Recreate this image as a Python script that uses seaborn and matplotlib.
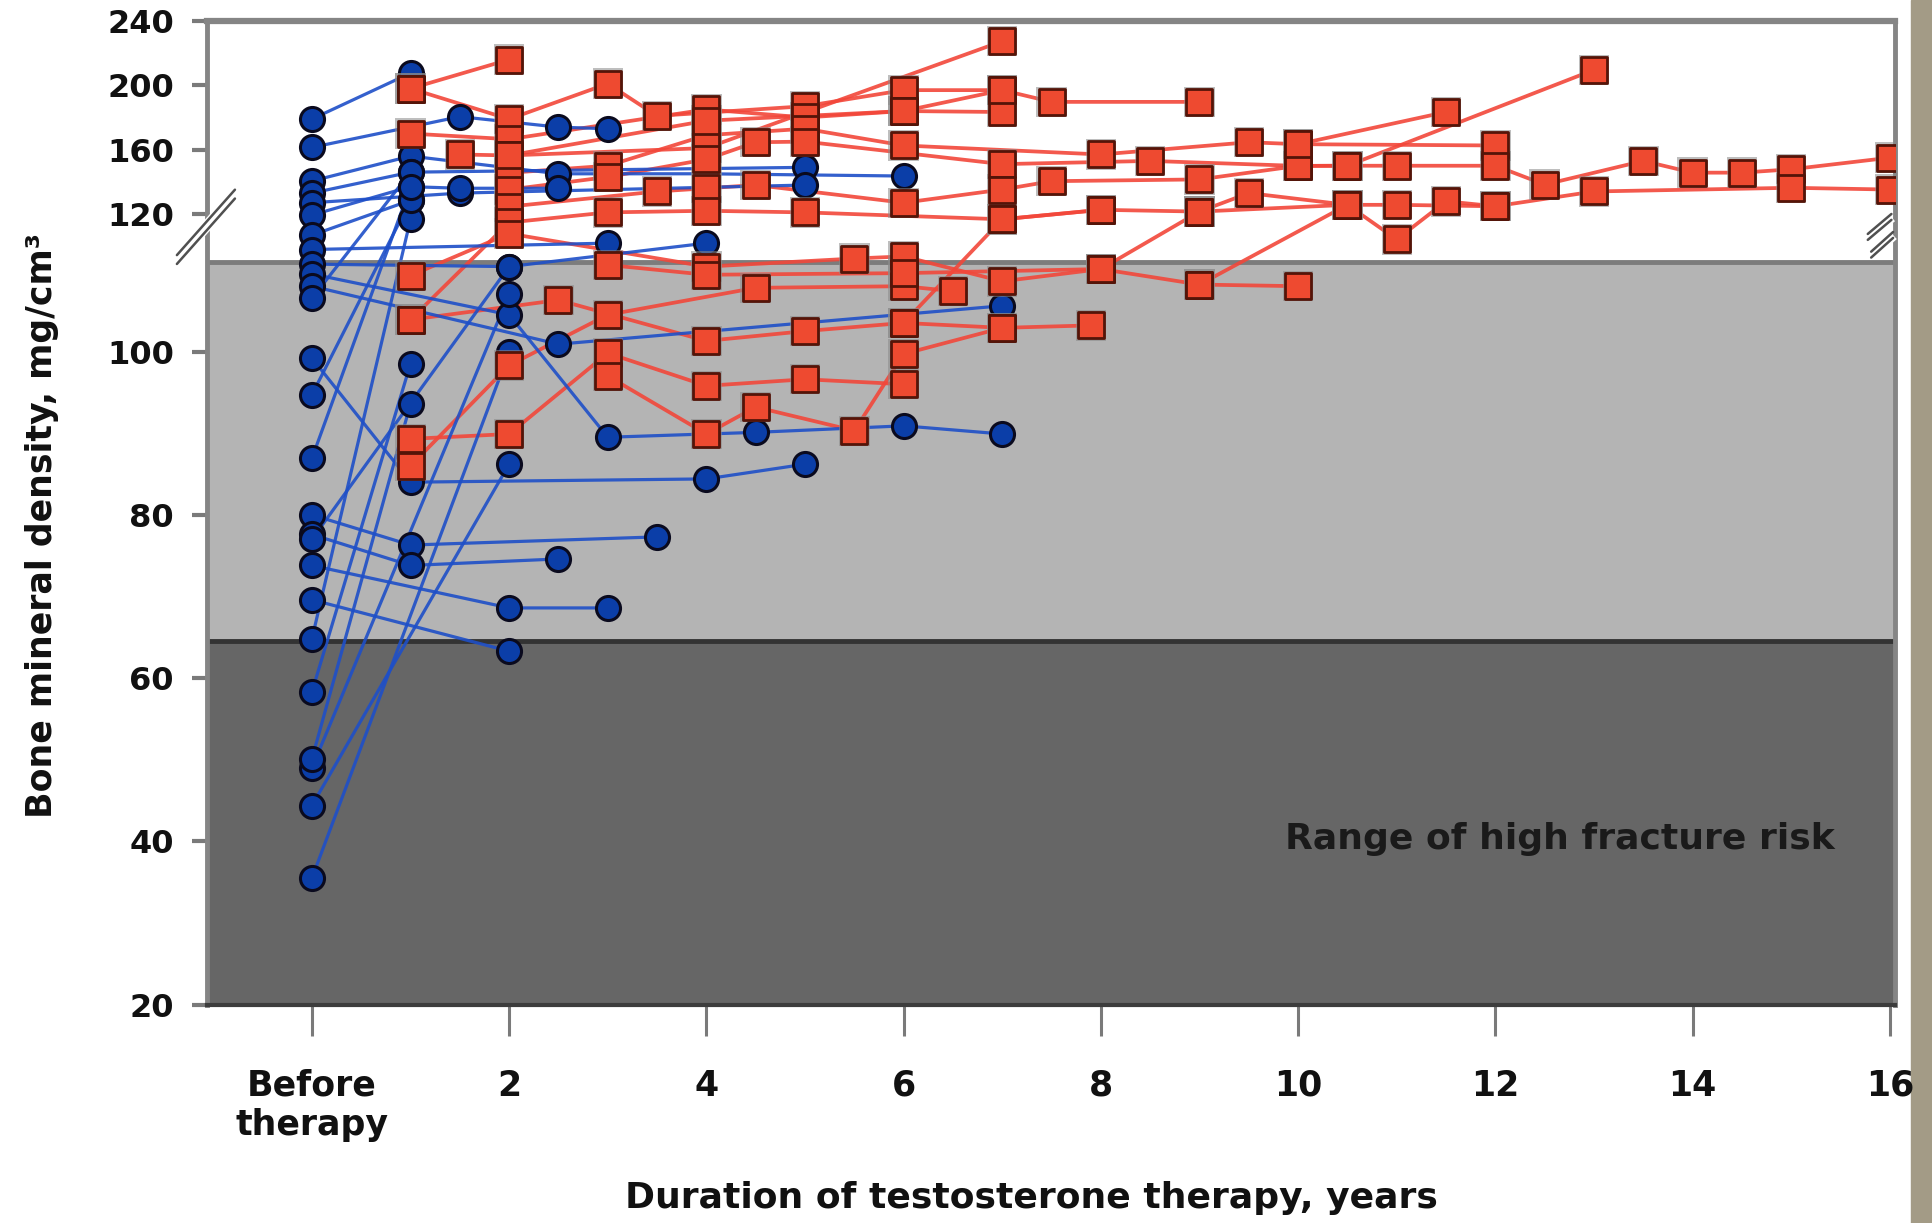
import numpy as np
import pandas as pd
import matplotlib
matplotlib.use("Agg")
import matplotlib.pyplot as plt
import seaborn as sns
from matplotlib.patches import Rectangle

sns.set_style("white")
plt.rcParams["font.family"] = ["DejaVu Sans"]

# ---------------- data ----------------
# blue circles: patients measured before therapy and during therapy
blue_patient = [
    1, 1,
    2, 2, 2, 2,
    3, 3, 3, 3, 3,
    4, 4, 4,
    5, 5, 5,
    6, 6, 6, 6,
    7, 7,
    8, 8,
    9, 9, 9,
    10, 10, 10, 10, 10, 10,
    11, 11, 11,
    12, 12,
    13, 13, 13, 13,
    14, 14,
    15, 15,
    16, 16, 16,
    17, 17, 17,
    18, 18,
    19, 19, 19,
    20, 20,
    21, 21,
    22, 22,
    23, 23,
    24, 24,
    25, 25,
    26, 26]
blue_year = [
    0, 1,
    0, 1.5, 2.5, 3,
    0, 1, 2.5, 4, 6,
    0, 1, 5,
    0, 1.5, 5,
    0, 1, 1.5, 2.5,
    0, 1,
    0, 3,
    0, 2, 4,
    0, 2, 3, 4.5, 6, 7,
    0, 2.5, 7,
    0, 2,
    0, 1, 4, 5,
    0, 1,
    0, 2,
    0, 1, 3.5,
    0, 1, 2.5,
    0, 1,
    0, 2, 3,
    0, 2,
    0, 2,
    0, 1,
    0, 1,
    0, 1,
    0, 1,
    0, 2]
blue_bmd = [
    179, 207.6,
    161.4, 180.5, 174, 173,
    140.5, 156, 145, 145, 143.6,
    133, 146, 149,
    127, 133, 138,
    119.8, 137, 136, 136,
    116, 128.5,
    113.3, 114.5,
    110.7, 110.4, 114.5,
    109.5, 104.5, 89.5, 90.1, 90.9, 89.9,
    108, 100.9, 105.6,
    49, 107,
    99.2, 84, 84.4, 86.2,
    50.1, 93.6,
    44.4, 86.2,
    80, 76.3, 77.3,
    77.6, 73.8, 74.6,
    64.8, 119,
    73.8, 68.6, 68.6,
    69.6, 63.3,
    35.5, 99.9,
    58.3, 98.5,
    106.5, 146,
    94.7, 128.5,
    86.9, 137,
    77, 110.4]

# red squares: patients already on testosterone therapy
red_patient = [
    1, 1,
    2, 2, 2, 2, 2, 2, 2, 2, 2,
    3, 3, 3, 3, 3, 3,
    4, 4, 4, 4,
    5, 5, 5, 5, 5, 5, 5, 5, 5,
    6, 6, 6, 6, 6, 6, 6, 6, 6, 6, 6, 6, 6, 6, 6, 6, 6,
    7, 7, 7, 7, 7, 7, 7, 7, 7, 7, 7,
    8, 8, 8, 8, 8, 8, 8, 8, 8, 8, 8, 8, 8, 8, 8, 8,
    9, 9,
    10, 10, 10, 10, 10, 10, 10, 10, 10,
    11, 11, 11, 11, 11, 11, 11,
    12, 12, 12, 12, 12, 12,
    13, 13, 13, 13, 13, 13,
    14, 14, 14, 14, 14, 14,
    15, 15, 15, 15,
    16, 16, 16, 16,
    17, 17, 17, 17,
    18, 18, 18,
    19, 19,
    20, 20]
red_year = [
    1, 2,
    1, 2, 3, 3.5, 5, 6, 7, 7.5, 9,
    1, 2, 4, 5, 6, 7,
    1.5, 2, 4, 7,
    2, 3, 4, 5, 6, 8, 9.5, 10, 12,
    2, 3, 4, 4.5, 5, 7, 8.5, 10, 10.5, 11, 12, 12.5, 13.5, 14, 14.5, 15, 16,
    2, 3.5, 4, 4.5, 6, 7, 7.5, 9, 10, 10.5, 13,
    1, 2, 3, 4, 5, 7, 8, 9, 9.5, 10.5, 11, 11.5, 12, 13, 15, 16,
    10, 11.5,
    1, 2, 4, 5.5, 6, 7, 8, 9, 10,
    1, 2.5, 4, 5, 6, 7, 7.9,
    1, 2, 3, 4, 5, 6,
    1, 2, 3, 4.5, 6, 6.5,
    3, 4, 4.5, 5.5, 6, 7,
    3, 4, 6, 8,
    2, 4, 6, 7,
    9, 10.5, 11, 12,
    6, 7, 8,
    8, 9,
    9, 10.5]
red_bmd = [
    198, 216,
    198, 179, 201, 181, 187, 197, 197, 189.7, 189.7,
    170, 166.5, 185, 180, 184, 183.4,
    157, 156.4, 161, 227.4,
    145.6, 150, 169, 173, 162.6, 157, 164.6, 163.4, 162.6,
    135.2, 143, 154, 164.6, 165, 151, 153, 149.9, 150, 150, 150, 138.3, 153, 145.7, 145.7, 147.8, 155,
    124.6, 134, 136, 138, 127, 135.2, 140.4, 141.5, 149.9, 150, 209.6,
    103.9, 118.4, 121, 122, 121, 119, 122.6, 121.5, 133, 125.7, 115.2, 127.9, 124.8, 134, 136.3, 135.2,
    163.4, 183.4,
    109.3, 116.3, 110.4, 111.6, 112, 108.6, 110.1, 108.2, 108.0,
    103.9, 106.3, 101.3, 102.5, 103.5, 102.9, 103.2,
    89.3, 89.9, 99.8, 95.8, 96.6, 96,
    86, 98.3, 104.5, 107.8, 108, 107.4,
    97, 89.9, 93.2, 90.3, 99.7, 102.9,
    110.6, 109.4, 109.6, 110.1,
    156.4, 178, 184, 197,
    121.5, 125.7, 125.7, 124.8,
    103.5, 119, 122.6,
    110.1, 121.5,
    108.2, 125.7]

x_ticks = [0, 2, 4, 6, 8, 10, 12, 14, 16]
x_ticklabels = ["Before\ntherapy", "2", "4", "6", "8", "10", "12", "14", "16"]
y_ticks = [20, 40, 60, 80, 100, 120, 160, 200, 240]
y_ticklabels = ["20", "40", "60", "80", "100", "120", "160", "200", "240"]

risk_limit = 64.5      # upper limit of the high fracture risk range
break_value = 111.0    # axis break

blue = pd.DataFrame({"patient": blue_patient, "year": blue_year, "bmd": blue_bmd})
red = pd.DataFrame({"patient": red_patient, "year": red_year, "bmd": red_bmd})

# ---------------- broken (compressed) y scale ----------------
B1, B2 = break_value, 120.0
S1, S2 = 0.649, 0.197
T2 = B1 + (B2 - B1) * S1


def fwd(y):
    y = np.asarray(y, dtype=float)
    return np.where(y <= B1, y,
                    np.where(y <= B2, B1 + (y - B1) * S1, T2 + (y - B2) * S2))


def inv(t):
    t = np.asarray(t, dtype=float)
    return np.where(t <= B1, t,
                    np.where(t <= T2, B1 + (t - B1) / S1, B2 + (t - T2) / S2))


fig = plt.figure(figsize=(19.33, 12.23), dpi=100)
fig.patch.set_facecolor("white")
ax = fig.add_axes([0.10714, 0.17843, 0.87309, 0.80443])
ax.set_yscale("function", functions=(fwd, inv))
ax.set_xlim(-1.0625, 16.05)
ax.set_ylim(20, 240)
ax.set_facecolor("white")

# zones
ax.axhspan(20, risk_limit, color="#666666", zorder=0, lw=0)
ax.axhspan(risk_limit, break_value, color="#b4b4b4", zorder=0, lw=0)
ax.axhline(risk_limit, color="#333333", lw=3.5, zorder=1)
ax.axhline(break_value, color="#7c7c7c", lw=3.5, zorder=1)

# lines
sns.lineplot(data=red, x="year", y="bmd", units="patient", estimator=None,
             sort=False, color="#f2473a", lw=2.7, alpha=0.9, ax=ax,
             legend=False, zorder=2)
sns.lineplot(data=blue, x="year", y="bmd", units="patient", estimator=None,
             sort=False, color="#1e4fc8", lw=2.3, alpha=0.9, ax=ax,
             legend=False, zorder=2.5)

# markers
sns.scatterplot(data=blue, x="year", y="bmd", marker="o", s=300,
                color="#0b3ea8", edgecolor="#0a0a1e", linewidth=2.2,
                ax=ax, legend=False, zorder=3.5)
sns.scatterplot(data=red, x="year", y="bmd", marker="s", s=480,
                color="#8a8a8a", edgecolor="none", alpha=0.55,
                ax=ax, legend=False, zorder=3.8)
sns.scatterplot(data=red, x="year", y="bmd", marker="s", s=340,
                color="#ee4a30", edgecolor="#541408", linewidth=2.0,
                ax=ax, legend=False, zorder=4)

# ticks
ax.set_yticks(y_ticks)
ax.set_yticklabels(y_ticklabels)
ax.set_xticks(x_ticks)
ax.set_xticklabels(x_ticklabels)
ax.minorticks_off()
ax.tick_params(axis="y", which="both", left=True, direction="out", length=11,
               width=3, color="#7a7a7a", pad=13, labelsize=23,
               labelcolor="#111111")
ax.tick_params(axis="x", which="both", bottom=True, direction="out", length=22,
               width=2.2, color="#7a7a7a", pad=24, labelsize=25,
               labelcolor="#111111")
for lab in ax.get_xticklabels() + ax.get_yticklabels():
    lab.set_fontweight("bold")

# spines
for side in ["top", "right", "left"]:
    ax.spines[side].set_color("#858585")
ax.spines["top"].set_linewidth(4.5)
ax.spines["right"].set_linewidth(3.5)
ax.spines["left"].set_linewidth(3.5)
ax.spines["bottom"].set_color("#3c3c3c")
ax.spines["bottom"].set_linewidth(3)

# labels
ax.set_xlabel("Duration of testosterone therapy, years", fontsize=26,
              fontweight="bold", color="#111111")
ax.xaxis.set_label_coords(0.4887, -0.196)
ax.xaxis.label.set_va("center")
ax.set_ylabel("Bone mineral density, mg/cm³", fontsize=25,
              fontweight="bold", color="#111111")
ax.yaxis.set_label_coords(-0.088, 0.4875)

ax.text(12.65, 40.3, "Range of high fracture risk", ha="center", va="center",
        fontsize=26, fontweight="bold", color="#1a1a1a", zorder=5)

# break marks
def brk(x0, y0, x1, y1, off):
    ax.plot([x0, x1], [y0, y1], transform=ax.transAxes, color="white",
            lw=8, clip_on=False, zorder=6, solid_capstyle="butt")
    for d in (-off, off):
        ax.plot([x0, x1], [y0 + d, y1 + d], transform=ax.transAxes,
                color="#505050", lw=1.8, clip_on=False, zorder=7)

brk(-0.0179, 0.7575, 0.0165, 0.824, 0.0045)
brk(0.984, 0.7805, 0.998, 0.8008, 0.003)
brk(0.986, 0.7625, 0.999, 0.7825, 0.003)

# torn paper edge on the right
fig.patches.append(Rectangle((0.9885, 0.0), 0.0115, 1.0, transform=fig.transFigure,
                             color="#a39b86", zorder=-1))

fig.savefig("out.png", dpi=100)
